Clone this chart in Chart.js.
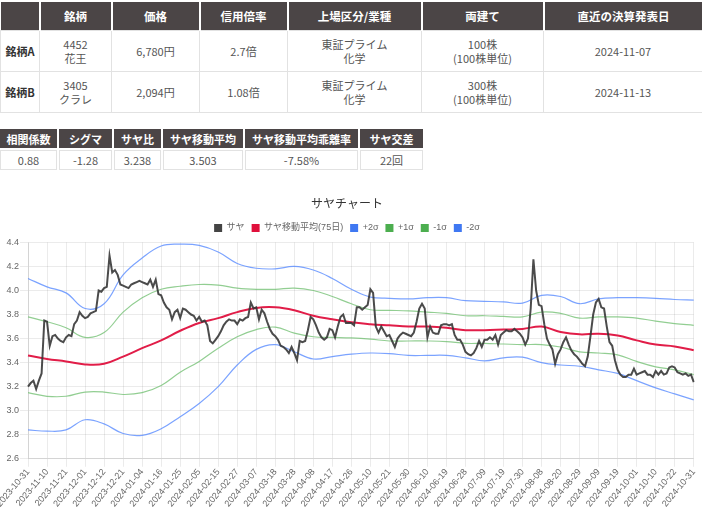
<!DOCTYPE html>
<html lang="ja">
<head>
<meta charset="utf-8">
<title>サヤチャート</title>
<script src="https://cdn.jsdelivr.net/npm/chart.js@4.4.1/dist/chart.umd.min.js"></script>
<style>
  html, body { margin: 0; padding: 0; background: #fff; overflow: hidden; }
  body { width: 702px; height: 509px; position: relative; font-family: "Noto Sans CJK JP", sans-serif; }
  table { border-collapse: collapse; position: absolute; left: 0; table-layout: fixed; }
  th { background: #4b4546; color: #fff; font-weight: bold; font-size: 11.5px; text-align: center; border-left: 2px solid #fff; padding: 0; }
  th:first-child { border-left: 0; }
  td { border: 1px solid #e2e2e2; color: #555; font-size: 11px; text-align: center; line-height: 14px; padding: 0; }
  #pair { top: 2px; width: 702px; }
  #pair th { height: 28px; }
  #pair td { height: 40px; }
  #pair td.name { color: #333; font-weight: bold; }
  #stats { top: 127px; border-collapse: separate; border-spacing: 2px 2px; left: -2px; }
  #stats th { height: 19px; border-left: 0; font-size: 11px; }
  #stats td { height: 18px; }
  #chartBox { position: absolute; left: -8px; top: 182px; width: 710px; height: 327px; }
</style>
</head>
<body>
<table id="pair">
  <colgroup><col style="width:39px"><col style="width:72px"><col style="width:88px"><col style="width:88px"><col style="width:134px"><col style="width:122px"><col style="width:159px"></colgroup>
  <tr><th></th><th>銘柄</th><th>価格</th><th>信用倍率</th><th>上場区分/業種</th><th>両建て</th><th>直近の決算発表日</th></tr>
  <tr><td class="name">銘柄A</td><td>4452<br>花王</td><td>6,780円</td><td>2.7倍</td><td>東証プライム<br>化学</td><td>100株<br>(100株単位)</td><td>2024-11-07</td></tr>
  <tr><td class="name">銘柄B</td><td>3405<br>クラレ</td><td>2,094円</td><td>1.08倍</td><td>東証プライム<br>化学</td><td>300株<br>(100株単位)</td><td>2024-11-13</td></tr>
</table>

<table id="stats">
  <colgroup><col style="width:57px"><col style="width:53px"><col style="width:47px"><col style="width:80px"><col style="width:113px"><col style="width:63px"></colgroup>
  <tr><th>相関係数</th><th>シグマ</th><th>サヤ比</th><th>サヤ移動平均</th><th>サヤ移動平均乖離率</th><th>サヤ交差</th></tr>
  <tr><td>0.88</td><td>-1.28</td><td>3.238</td><td>3.503</td><td>-7.58%</td><td>22回</td></tr>
</table>

<div id="chartBox"><canvas id="sayaChart"></canvas></div>

<script>
// 営業日 (2023-10-31 〜 2024-10-31)
const dates = [
  "2023-10-31","2023-11-01","2023-11-02","2023-11-06","2023-11-07","2023-11-08","2023-11-09","2023-11-10","2023-11-13","2023-11-14",
  "2023-11-15","2023-11-16","2023-11-17","2023-11-20","2023-11-21","2023-11-22","2023-11-24","2023-11-27","2023-11-28","2023-11-29",
  "2023-11-30","2023-12-01","2023-12-04","2023-12-05","2023-12-06","2023-12-07","2023-12-08","2023-12-11","2023-12-12","2023-12-13",
  "2023-12-14","2023-12-15","2023-12-18","2023-12-19","2023-12-20","2023-12-21","2023-12-22","2023-12-25","2023-12-26","2023-12-27",
  "2023-12-28","2023-12-29","2024-01-04","2024-01-05","2024-01-09","2024-01-10","2024-01-11","2024-01-12","2024-01-15","2024-01-16",
  "2024-01-17","2024-01-18","2024-01-19","2024-01-22","2024-01-23","2024-01-24","2024-01-25","2024-01-26","2024-01-29","2024-01-30",
  "2024-01-31","2024-02-01","2024-02-02","2024-02-05","2024-02-06","2024-02-07","2024-02-08","2024-02-09","2024-02-13","2024-02-14",
  "2024-02-15","2024-02-16","2024-02-19","2024-02-20","2024-02-21","2024-02-22","2024-02-26","2024-02-27","2024-02-28","2024-02-29",
  "2024-03-01","2024-03-04","2024-03-05","2024-03-06","2024-03-07","2024-03-08","2024-03-11","2024-03-12","2024-03-13","2024-03-14",
  "2024-03-15","2024-03-18","2024-03-19","2024-03-21","2024-03-22","2024-03-25","2024-03-26","2024-03-27","2024-03-28","2024-03-29",
  "2024-04-01","2024-04-02","2024-04-03","2024-04-04","2024-04-05","2024-04-08","2024-04-09","2024-04-10","2024-04-11","2024-04-12",
  "2024-04-15","2024-04-16","2024-04-17","2024-04-18","2024-04-19","2024-04-22","2024-04-23","2024-04-24","2024-04-25","2024-04-26",
  "2024-04-30","2024-05-01","2024-05-02","2024-05-07","2024-05-08","2024-05-09","2024-05-10","2024-05-13","2024-05-14","2024-05-15",
  "2024-05-16","2024-05-17","2024-05-20","2024-05-21","2024-05-22","2024-05-23","2024-05-24","2024-05-27","2024-05-28","2024-05-29",
  "2024-05-30","2024-05-31","2024-06-03","2024-06-04","2024-06-05","2024-06-06","2024-06-07","2024-06-10","2024-06-11","2024-06-12",
  "2024-06-13","2024-06-14","2024-06-17","2024-06-18","2024-06-19","2024-06-20","2024-06-21","2024-06-24","2024-06-25","2024-06-26",
  "2024-06-27","2024-06-28","2024-07-01","2024-07-02","2024-07-03","2024-07-04","2024-07-05","2024-07-08","2024-07-09","2024-07-10",
  "2024-07-11","2024-07-12","2024-07-16","2024-07-17","2024-07-18","2024-07-19","2024-07-22","2024-07-23","2024-07-24","2024-07-25",
  "2024-07-26","2024-07-29","2024-07-30","2024-07-31","2024-08-01","2024-08-02","2024-08-05","2024-08-06","2024-08-07","2024-08-08",
  "2024-08-09","2024-08-13","2024-08-14","2024-08-15","2024-08-16","2024-08-19","2024-08-20","2024-08-21","2024-08-22","2024-08-23",
  "2024-08-26","2024-08-27","2024-08-28","2024-08-29","2024-08-30","2024-09-02","2024-09-03","2024-09-04","2024-09-05","2024-09-06",
  "2024-09-09","2024-09-10","2024-09-11","2024-09-12","2024-09-13","2024-09-17","2024-09-18","2024-09-19","2024-09-20","2024-09-24",
  "2024-09-25","2024-09-26","2024-09-27","2024-09-30","2024-10-01","2024-10-02","2024-10-03","2024-10-04","2024-10-07","2024-10-08",
  "2024-10-09","2024-10-10","2024-10-11","2024-10-15","2024-10-16","2024-10-17","2024-10-18","2024-10-21","2024-10-22","2024-10-23",
  "2024-10-24","2024-10-25","2024-10-28","2024-10-29","2024-10-30","2024-10-31"
];

// サヤ (A/B 株価比)
const saya = [
  3.20,3.23,3.25,3.18,3.25,3.31,3.75,3.74,3.54,3.62,
  3.63,3.60,3.58,3.57,3.61,3.63,3.62,3.72,3.75,3.82,
  3.79,3.77,3.78,3.81,3.82,3.83,4.00,3.99,4.02,4.03,
  4.29,4.15,4.17,4.13,4.05,4.04,4.03,4.02,4.05,4.06,
  4.07,4.08,4.07,4.06,4.05,4.09,4.03,4.09,3.97,3.96,
  3.90,3.86,3.84,3.76,3.82,3.84,3.77,3.85,3.84,3.82,
  3.80,3.79,3.75,3.78,3.74,3.75,3.71,3.58,3.56,3.59,
  3.62,3.66,3.71,3.74,3.76,3.75,3.75,3.72,3.76,3.75,
  3.77,3.78,3.90,3.85,3.86,3.76,3.84,3.81,3.74,3.68,
  3.64,3.62,3.59,3.54,3.53,3.51,3.48,3.53,3.48,3.42,
  3.58,3.57,3.58,3.67,3.78,3.76,3.71,3.65,3.61,3.59,
  3.61,3.68,3.67,3.61,3.70,3.78,3.80,3.73,3.73,3.73,
  3.71,3.86,3.86,3.84,3.86,3.88,4.01,3.98,3.70,3.65,
  3.70,3.66,3.62,3.63,3.58,3.53,3.60,3.63,3.65,3.64,
  3.63,3.62,3.65,3.74,3.85,3.89,3.85,3.61,3.70,3.65,
  3.64,3.64,3.71,3.72,3.72,3.71,3.72,3.63,3.59,3.59,
  3.55,3.49,3.47,3.46,3.48,3.52,3.58,3.53,3.59,3.59,
  3.61,3.59,3.63,3.55,3.63,3.65,3.67,3.66,3.66,3.68,
  3.66,3.64,3.61,3.55,3.60,3.85,4.26,4.00,3.88,3.87,
  3.72,3.60,3.55,3.51,3.39,3.47,3.51,3.57,3.61,3.55,
  3.50,3.47,3.45,3.42,3.39,3.37,3.45,3.62,3.80,3.90,
  3.93,3.86,3.85,3.70,3.57,3.54,3.42,3.34,3.30,3.28,
  3.28,3.30,3.30,3.35,3.30,3.31,3.32,3.33,3.30,3.30,
  3.28,3.33,3.30,3.33,3.30,3.31,3.36,3.37,3.36,3.32,
  3.31,3.30,3.31,3.29,3.30,3.238
];

// 目盛りに出す日付 (移動平均・σ帯はこの日付で読み取り)
const tickLabels = [
  "2023-10-31","2023-11-10","2023-11-21","2023-12-01","2023-12-12","2023-12-21","2024-01-04","2024-01-16","2024-01-25",
  "2024-02-05","2024-02-15","2024-02-27","2024-03-07","2024-03-18","2024-03-28","2024-04-08","2024-04-17","2024-04-26",
  "2024-05-10","2024-05-21","2024-05-30","2024-06-10","2024-06-19","2024-06-28","2024-07-09","2024-07-19","2024-07-30",
  "2024-08-08","2024-08-20","2024-08-29","2024-09-09","2024-09-19","2024-10-01","2024-10-10","2024-10-22","2024-10-31"
];

const ma75 = [
  3.46,3.43,3.41,3.385,3.39,3.45,3.52,3.585,3.665,
  3.73,3.77,3.82,3.855,3.86,3.835,3.79,3.76,3.735,
  3.72,3.71,3.70,3.70,3.69,3.67,3.67,3.675,3.68,
  3.70,3.655,3.635,3.64,3.625,3.585,3.55,3.535,3.503
];
const plus2 = [
  4.10,4.03,3.98,3.85,3.89,4.13,4.27,4.37,4.385,
  4.375,4.32,4.225,4.185,4.18,4.20,4.17,4.10,4.01,
  3.945,3.935,3.93,3.94,3.94,3.915,3.91,3.905,3.895,
  3.96,3.95,3.89,3.93,3.94,3.94,3.935,3.925,3.92
];
const plus1 = [
  3.78,3.74,3.69,3.61,3.65,3.82,3.94,4.01,4.035,
  4.05,4.045,4.02,4.01,4.01,4.02,4.00,3.95,3.89,
  3.84,3.835,3.83,3.82,3.81,3.79,3.79,3.785,3.78,
  3.82,3.81,3.77,3.78,3.78,3.77,3.745,3.725,3.71
];
const minus1 = [
  3.15,3.12,3.12,3.155,3.155,3.135,3.15,3.21,3.32,
  3.41,3.52,3.615,3.675,3.695,3.645,3.615,3.61,3.605,
  3.595,3.58,3.58,3.58,3.575,3.56,3.56,3.555,3.55,
  3.55,3.53,3.49,3.48,3.465,3.41,3.365,3.34,3.30
];
const minus2 = [
  2.84,2.83,2.84,2.925,2.89,2.81,2.795,2.85,2.95,
  3.06,3.20,3.38,3.51,3.55,3.49,3.43,3.45,3.47,
  3.48,3.475,3.46,3.46,3.46,3.44,3.415,3.44,3.445,
  3.40,3.38,3.37,3.34,3.31,3.25,3.19,3.14,3.09
];

const yTicksMin = 2.6;
const yTicksMax = 4.4;

const tickSet = new Set(tickLabels);
const onTicks = (vals) => tickLabels.map((d, i) => ({ x: d, y: vals[i] }));

const baseFont = "Arial, 'Liberation Sans', 'Noto Sans CJK JP', sans-serif";

function band(label, vals, line, box) {
  return {
    label: label,
    data: onTicks(vals),
    borderColor: line,
    backgroundColor: box,
    borderWidth: 1.2,
    pointRadius: 0,
    tension: 0.4,
    fill: false,
  };
}

new Chart(document.getElementById("sayaChart").getContext("2d"), {
  type: "line",
  data: {
    labels: dates,
    datasets: [
      {
        label: "サヤ",
        data: saya,
        borderColor: "rgba(55,55,55,0.9)",
        backgroundColor: "#444",
        borderWidth: 2,
        pointRadius: 0,
        tension: 0,
        fill: false,
      },
      {
        label: "サヤ移動平均(75日)",
        data: onTicks(ma75),
        borderColor: "#e11d48",
        backgroundColor: "#e0103c",
        borderWidth: 2,
        pointRadius: 0,
        tension: 0.4,
        fill: false,
      },
      band("+2σ", plus2, "rgba(90,140,255,0.8)", "#3f78f2"),
      band("+1σ", plus1, "rgba(110,190,110,0.75)", "#4cae4f"),
      band("-1σ", minus1, "rgba(110,190,110,0.75)", "#4cae4f"),
      band("-2σ", minus2, "rgba(90,140,255,0.8)", "#3f78f2"),
    ],
  },
  options: {
    responsive: true,
    maintainAspectRatio: false,
    animation: false,
    plugins: {
      title: {
        display: true,
        text: "サヤチャート",
        color: "#333",
        font: { family: "'Noto Sans CJK JP', sans-serif", size: 12, weight: "normal" },
        padding: { top: 14, bottom: 6 },
      },
      legend: {
        labels: {
          boxWidth: 8,
          boxHeight: 8,
          padding: 7,
          color: "#666",
          font: { family: baseFont, size: 9 },
          generateLabels(chart) {
            const items = Chart.defaults.plugins.legend.labels.generateLabels(chart);
            items.forEach((it) => { it.strokeStyle = it.fillStyle; it.lineWidth = 0; });
            return items;
          },
        },
      },
      tooltip: { enabled: false },
    },
    scales: {
      x: {
        grid: { color: "rgba(0,0,0,0.08)" },
        ticks: {
          autoSkip: false,
          maxRotation: 50,
          minRotation: 50,
          padding: 0,
          color: "#666",
          font: { family: baseFont, size: 9 },
          callback(value) {
            const lab = this.getLabelForValue(value);
            return tickSet.has(lab) ? lab : null;
          },
        },
      },
      y: {
        min: yTicksMin,
        max: yTicksMax,
        grid: { color: "rgba(0,0,0,0.08)" },
        afterFit(scale) { scale.width = 36; },
        ticks: {
          stepSize: 0.2,
          padding: 1,
          color: "#666",
          font: { family: baseFont, size: 9 },
          callback: (v) => Number(v).toFixed(1),
        },
      },
    },
  },
});
</script>
</body>
</html>
